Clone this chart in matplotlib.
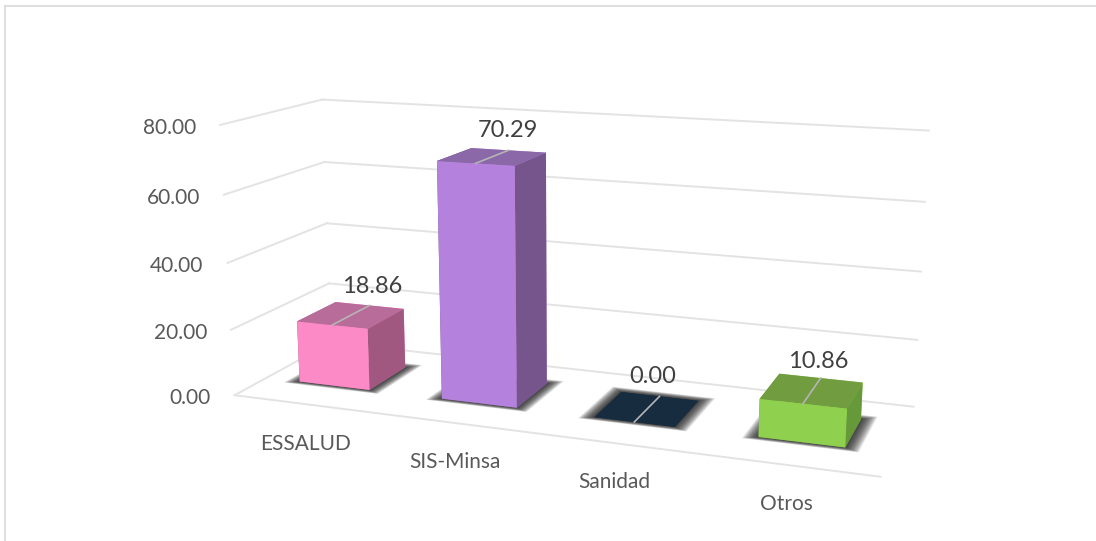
import numpy as np
import matplotlib
matplotlib.use('Agg')
import matplotlib.pyplot as plt
from matplotlib.lines import Line2D
from mpl_toolkits.mplot3d import proj3d

categories = ['ESSALUD', 'SIS-Minsa', 'Sanidad', 'Otros']
values = [18.86, 70.29, 0.00, 10.86]
zticks = [0, 20, 40, 60, 80]
front_colors = ['#FC8AC6', '#B482DC', '#182C40', '#8FD14F']
top_colors = ['#B86C99', '#8B68A8', '#182C40', '#729C40']
side_colors = ['#A05880', '#75558B', '#182C40', '#66993A']

plt.rcParams['font.family'] = ['Lato', 'DejaVu Sans']

fig = plt.figure(figsize=(10.96, 5.41), dpi=100)
# axes box worked out from the fitted camera, goes past the figure on purpose
ax = fig.add_axes([0.17962, -0.18420, 0.66353, 1.34420], projection='3d', computed_zorder=False)
ax.set_xlim(0, 4)
ax.set_ylim(0, 1)
ax.set_zlim(0, 80)
ax.set_box_aspect((3.49, 1.08, 1.478))
ax.view_init(13.644, -69.779, 0)
ax.set_proj_type('persp', focal_length=0.394)
ax.set_xticks([])
ax.set_yticks([])
ax.set_zticks([])
ax.set_axis_off()
ax.patch.set_alpha(0)


def label(x, y, z, s, dx=0, dy=0, **kw):
    # put a flat text on the projected point, dx dy in pixels
    u, v, _ = proj3d.proj_transform(x, y, z, ax.get_proj())
    ax.annotate(s, (u, v), xytext=(dx, dy), textcoords='offset pixels',
                annotation_clip=False, va='center', zorder=8, **kw)


grid = '#E3E3E3'
for z in zticks:
    ax.plot([0, 0], [0, 1], [z, z], color=grid, lw=1.4, zorder=1, clip_on=False)
    ax.plot([0, 4], [1, 1], [z, z], color=grid, lw=1.4, zorder=1, clip_on=False)
    label(0, 0, z, '%.2f' % z, dx=-24, dy=-3, ha='right', fontsize=15, color='#595959')
ax.plot([0, 4], [0, 0], [0, 0], color=grid, lw=1.4, zorder=1, clip_on=False)

y0, y1 = 0.31, 0.72
width = 0.5
value_nudge = [(3, 19), (0, 20), (-7, 20), (-2, 17)]
for i, name in enumerate(categories):
    cx = i + 0.49
    h = values[i]
    # soft shadow, stacked see through rectangles on the floor
    for m in np.linspace(0.085, 0.0, 18):
        X, Y = np.meshgrid([cx - width / 2 - m, cx + width / 2 + m],
                           [y0 - m * 0.5, y1 + m * 0.8])
        ax.plot_surface(X, Y, np.zeros_like(X), color=(0.1, 0.1, 0.1, 0.085), shade=False,
                        linewidth=0, antialiased=True, zorder=3)
    faces = [top_colors[i], top_colors[i], front_colors[i], front_colors[i], side_colors[i], side_colors[i]]
    ax.bar3d(cx - width / 2, y0, 0, width, y1 - y0, h, color=faces, shade=False, zorder=5)
    ax.plot([cx, cx], [y0, y1], [h, h], color='#B5B5B5', lw=1.2, zorder=6)
    label(cx, y1, h, '%.2f' % h, dx=value_nudge[i][0], dy=value_nudge[i][1],
          ha='center', fontsize=17, color='#404040')
    label(cx, 0.04, 0, name, dx=-2, dy=-42, ha='center', fontsize=15, color='#595959')

# chart frame, only top and left show in the crop
fig.add_artist(Line2D([0.0046, 1], [0.989, 0.989], color='#D9D9D9', lw=1.2))
fig.add_artist(Line2D([0.0046, 0.0046], [0, 0.989], color='#D9D9D9', lw=1.2))

fig.savefig('out.png', dpi=100)
